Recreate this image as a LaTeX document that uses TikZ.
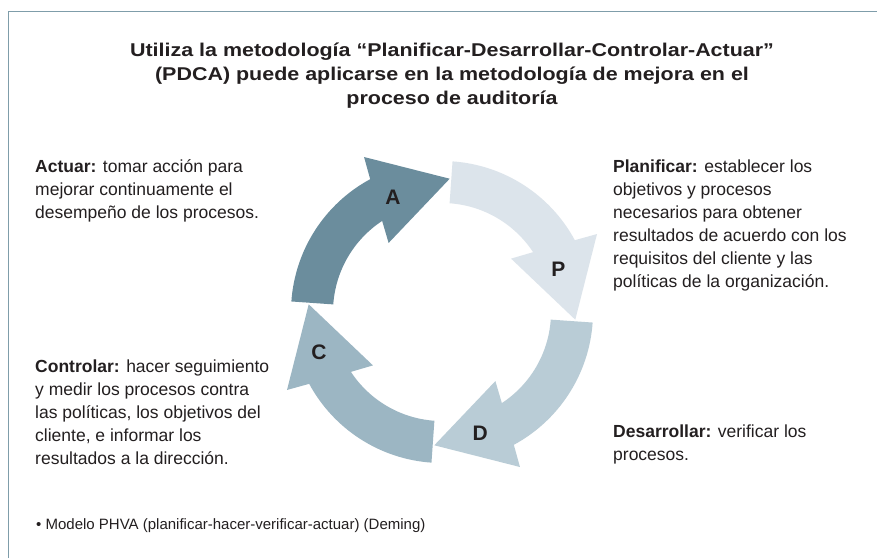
\documentclass[tikz,border=0pt]{standalone}
\usepackage{fontspec}
\setmainfont{Liberation Sans}
\newfontfamily\titlefont{Liberation Sans}[FakeStretch=1.16]
\definecolor{framec}{HTML}{7F9DAA}
\definecolor{colA}{HTML}{6B8D9D}
\definecolor{colP}{HTML}{DCE4EB}
\definecolor{colD}{HTML}{B9CCD6}
\definecolor{colC}{HTML}{9CB6C3}
\definecolor{ink}{HTML}{231F20}
\tikzset{
  cyclearrow/.pic={
    \path[pic actions] (176:151) arc[start angle=176,end angle=118.4,radius=151]
      -- (116.7:173.5) -- (86.7:133.5) -- (127.7:87.3) -- (123.3:109)
      arc[start angle=123.3,end angle=176,radius=109] -- cycle;
  },
  letter/.style={font=\bfseries\fontsize{21}{21}\selectfont, text=ink, inner sep=0pt},
  bodytext/.style={font=\fontsize{17.5}{23}\selectfont, text=ink, inner sep=0pt, align=left, anchor=north west},
  titletext/.style={font=\titlefont\bfseries\fontsize{18.5}{24.3}\selectfont, text=ink, inner sep=0pt, align=center, anchor=north},
  notetext/.style={font=\fontsize{15}{17}\selectfont, text=ink, inner sep=0pt, anchor=base west},
  framestyle/.style={draw=framec, line width=1.6pt}
}
\newcommand{\firstline}{\rule{0pt}{18pt}}
\begin{document}
\begin{tikzpicture}[x=1pt,y=1pt]
\useasboundingbox (0,0) rectangle (877,-558);
\fill[white] (0,0) rectangle (877,-558);
\draw[framestyle] (8.5,-558) -- (8.5,-11.5) -- (877,-11.5);

\node[titletext] (title) at (452,-38) {\firstline Utiliza la metodología “Planificar-Desarrollar-Controlar-Actuar”\\(PDCA) puede aplicarse en la metodología de mejora en el\\proceso de auditoría};

\pic[fill=colA] at (442,-312) {cyclearrow};
\pic[fill=colP, rotate=-90] at (442,-312) {cyclearrow};
\pic[fill=colD, rotate=-180] at (442,-312) {cyclearrow};
\pic[fill=colC, rotate=-270] at (442,-312) {cyclearrow};

\node[letter] (lA) at (393,-197.5) {A};
\node[letter] (lP) at (558.3,-269) {P};
\node[letter] (lD) at (480.3,-433) {D};
\node[letter] (lC) at (319,-352.5) {C};

\node[bodytext] (actuar) at (35,-154.7) {\firstline\textbf{Actuar:} tomar acción para\\mejorar continuamente el\\desempeño de los procesos.};
\node[bodytext] (planificar) at (613,-154.3) {\firstline\textbf{Planificar:} establecer los\\objetivos y procesos\\necesarios para obtener\\resultados de acuerdo con los\\requisitos del cliente y las\\políticas de la organización.};
\node[bodytext] (controlar) at (35,-354.7) {\firstline\textbf{Controlar:} hacer seguimiento\\y medir los procesos contra\\las políticas, los objetivos del\\cliente, e informar los\\resultados a la dirección.};
\node[bodytext] (desarrollar) at (613,-419) {\firstline\textbf{Desarrollar:} verificar los\\procesos.};

\node[notetext] (nota) at (36,-529) {• Modelo PHVA (planificar-hacer-verificar-actuar) (Deming)};
\end{tikzpicture}
\end{document}
